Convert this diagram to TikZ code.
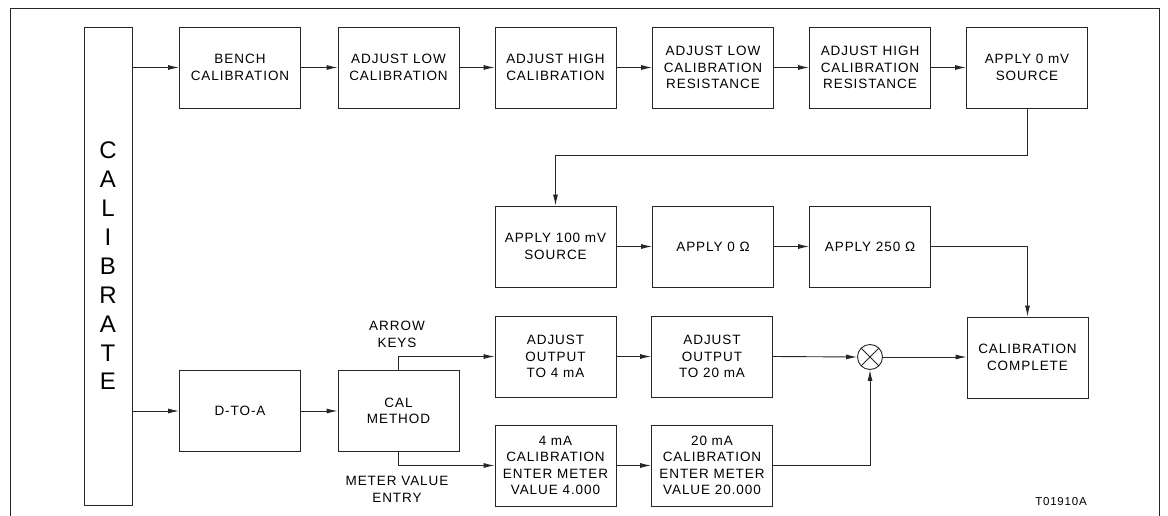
\documentclass[tikz,border=0pt]{standalone}
\usepackage{fontspec}
\setmainfont{Liberation Sans}[LetterSpace=7]
\usetikzlibrary{arrows.meta}
\begin{document}
\begin{tikzpicture}[x=1pt,y=-1pt,
  ln/.style={line width=0.9pt,draw=black!85},
  arr/.style={ln,-{Latex[length=11pt,width=5pt]}},
  box/.style={ln,rectangle,minimum width=121pt,minimum height=81pt,inner sep=0pt,align=center,
     font=\fontsize{13.5}{16.5}\selectfont},
  lbl/.style={align=center,font=\fontsize{13.5}{17}\selectfont,inner sep=0pt},
  mult/.style={ln,circle,minimum size=25pt,inner sep=0pt,
     path picture={\draw[ln] (path picture bounding box.north east) -- (path picture bounding box.south west)
        (path picture bounding box.north west) -- (path picture bounding box.south east);}}
]
\useasboundingbox (0,0) rectangle (1168,516);
\draw[ln] (10,516) -- (10,8) -- (1159,8) -- (1159,516);

\node[ln,draw,rectangle,minimum width=48pt,minimum height=478pt,inner sep=0pt,align=center,
  font=\fontsize{24}{28.9}\selectfont] (calv) at (108,266)
  {C\\A\\L\\I\\B\\R\\A\\T\\E};

\node[box,draw] (bench) at (240,67.5) {BENCH\\CALIBRATION};
\node[box,draw] (alow) at (398.5,67.5) {ADJUST LOW\\CALIBRATION};
\node[box,draw] (ahigh) at (555.5,67.5) {ADJUST HIGH\\CALIBRATION};
\node[box,draw] (alowr) at (713,67.5) {ADJUST LOW\\CALIBRATION\\RESISTANCE};
\node[box,draw] (ahighr) at (870,67.5) {ADJUST HIGH\\CALIBRATION\\RESISTANCE};
\node[box,draw] (a0mv) at (1027,67.5) {APPLY 0 mV\\SOURCE};

\node[box,draw] (a100) at (555.5,246.5) {APPLY 100 mV\\SOURCE};
\node[box,draw] (a0o) at (713,246.5) {APPLY 0 Ω};
\node[box,draw] (a250) at (870,246.5) {APPLY 250 Ω};

\node[box,draw] (adj4) at (555.5,356.5) {ADJUST\\OUTPUT\\TO 4 mA};
\node[box,draw] (adj20) at (712,356.5) {ADJUST\\OUTPUT\\TO 20 mA};
\node[box,draw] (done) at (1027.5,357.5) {CALIBRATION\\COMPLETE};

\node[box,draw] (cal4) at (555.5,465.5) {4 mA\\CALIBRATION\\ENTER METER\\VALUE 4.000};
\node[box,draw] (cal20) at (712,465.5) {20 mA\\CALIBRATION\\ENTER METER\\VALUE 20.000};

\node[box,draw] (dtoa) at (240,411) {D-TO-A};
\node[box,draw] (meth) at (398.5,411) {CAL\\METHOD};

\node[mult] (x) at (870,357) {};

\node[lbl] (keys) at (397,334) {ARROW\\KEYS};
\node[lbl] (entry) at (397,489) {METER VALUE\\ENTRY};
\node[lbl,font=\fontsize{11.5}{13}\selectfont] (tag) at (1061,502) {T01910A};

\coordinate (r1) at (0,155);

\draw[arr] (calv.east |- bench.west) -- (bench.west);
\draw[arr] (bench) -- (alow);
\draw[arr] (alow) -- (ahigh);
\draw[arr] (ahigh) -- (alowr);
\draw[arr] (alowr) -- (ahighr);
\draw[arr] (ahighr) -- (a0mv);
\draw[arr] (a0mv.south) -- (a0mv.south |- r1) -| (a100.north);
\draw[arr] (a100) -- (a0o);
\draw[arr] (a0o) -- (a250);
\draw[arr] (a250.east) -| (done.north);

\draw[arr] (calv.east |- dtoa.west) -- (dtoa.west);
\draw[arr] (dtoa) -- (meth);
\draw[arr] (meth.north) |- (adj4.west);
\draw[arr] (meth.south) |- (cal4.west);
\draw[arr] (adj4) -- (adj20);
\draw[arr] (cal4) -- (cal20);
\draw[arr] (adj20.east) -- (x.west);
\draw[arr] (x.east) -- (done.west |- x.east);
\draw[arr] (cal20.east) -| (x.south);
\end{tikzpicture}
\end{document}
